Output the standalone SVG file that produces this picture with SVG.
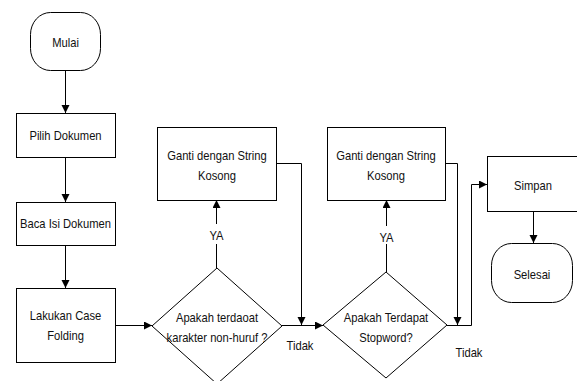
<svg xmlns="http://www.w3.org/2000/svg" width="577" height="381" viewBox="0 0 577 381">
<style>
.s{fill:#fff;stroke:#000;stroke-width:1}
.c{fill:none;stroke:#000;stroke-width:1}
text{font-family:"Liberation Sans",Arial,sans-serif;font-size:12.6px;fill:#111;text-anchor:middle}
</style>
<defs>
<marker id="ah" markerWidth="9" markerHeight="9" refX="8" refY="4" orient="auto" markerUnits="userSpaceOnUse">
<path d="M0,0 L8,4 L0,8 Z" fill="#000"/>
</marker>
</defs>
<rect width="577" height="381" fill="#fff"/>
<g id="connectors">
<line class="c" x1="65.5" y1="70" x2="65.5" y2="113" marker-end="url(#ah)"/>
<line class="c" x1="65.5" y1="157" x2="65.5" y2="202" marker-end="url(#ah)"/>
<line class="c" x1="65.5" y1="245" x2="65.5" y2="288" marker-end="url(#ah)"/>
<line class="c" x1="115" y1="325.5" x2="152" y2="325.5" marker-end="url(#ah)"/>
<line class="c" x1="216.5" y1="268" x2="216.5" y2="244"/>
<line class="c" x1="216.5" y1="224" x2="216.5" y2="200" marker-end="url(#ah)"/>
<polyline class="c" points="276,163.5 301.5,163.5 301.5,325" marker-end="url(#ah)"/>
<line class="c" x1="282" y1="325.5" x2="323" y2="325.5" marker-end="url(#ah)"/>
<line class="c" x1="386.5" y1="272" x2="386.5" y2="244"/>
<line class="c" x1="386.5" y1="226" x2="386.5" y2="200" marker-end="url(#ah)"/>
<polyline class="c" points="445,163.5 457.5,163.5 457.5,325" marker-end="url(#ah)"/>
<polyline class="c" points="447,325.5 471.5,325.5 471.5,184.5 487,184.5" marker-end="url(#ah)"/>
<line class="c" x1="533.5" y1="211" x2="533.5" y2="243" marker-end="url(#ah)"/>
<text transform="translate(216.5,240) scale(0.89,1)">YA</text>
<text transform="translate(386.5,242) scale(0.89,1)">YA</text>
<text transform="translate(300,350) scale(0.89,1)">Tidak</text>
<text transform="translate(469,357) scale(0.89,1)">Tidak</text>
</g>
<g id="mulai">
<rect class="s" x="30.5" y="12.5" width="70" height="58" rx="20" ry="22"/>
<text transform="translate(65.5,47) scale(0.89,1)">Mulai</text>
</g>
<g id="pilih">
<rect class="s" x="16.5" y="113.5" width="99" height="44"/>
<text transform="translate(65.5,140) scale(0.89,1)">Pilih Dokumen</text>
</g>
<g id="baca">
<rect class="s" x="16.5" y="202.5" width="99" height="43"/>
<text transform="translate(65.5,228) scale(0.89,1)">Baca Isi Dokumen</text>
</g>
<g id="lakukan">
<rect class="s" x="16.5" y="288.5" width="99" height="74"/>
<text transform="translate(65.5,320) scale(0.89,1)">Lakukan Case</text>
<text transform="translate(65.5,340) scale(0.89,1)">Folding</text>
</g>
<g id="cek1">
<polygon class="s" points="152,326 217,268 282,326 217,384"/>
<text transform="translate(217,322) scale(0.89,1)">Apakah terdaoat</text>
<text transform="translate(217,342) scale(0.89,1)">karakter non-huruf ?</text>
</g>
<g id="ganti1">
<rect class="s" x="157.5" y="127.5" width="119" height="73"/>
<text transform="translate(217,160) scale(0.89,1)">Ganti dengan String</text>
<text transform="translate(217,180) scale(0.89,1)">Kosong</text>
</g>
<g id="cek2">
<polygon class="s" points="323,325 386,272 447,325 386,378"/>
<text transform="translate(386,322) scale(0.89,1)">Apakah Terdapat</text>
<text transform="translate(386,342) scale(0.89,1)">Stopword?</text>
</g>
<g id="ganti2">
<rect class="s" x="327.5" y="127.5" width="118" height="73"/>
<text transform="translate(386,160) scale(0.89,1)">Ganti dengan String</text>
<text transform="translate(386,180) scale(0.89,1)">Kosong</text>
</g>
<g id="simpan">
<rect class="s" x="487.5" y="156.5" width="93" height="55"/>
<text transform="translate(533,190) scale(0.89,1)">Simpan</text>
</g>
<g id="selesai">
<rect class="s" x="491.5" y="243.5" width="81" height="59" rx="20" ry="22"/>
<text transform="translate(532,279) scale(0.89,1)">Selesai</text>
</g>
</svg>
